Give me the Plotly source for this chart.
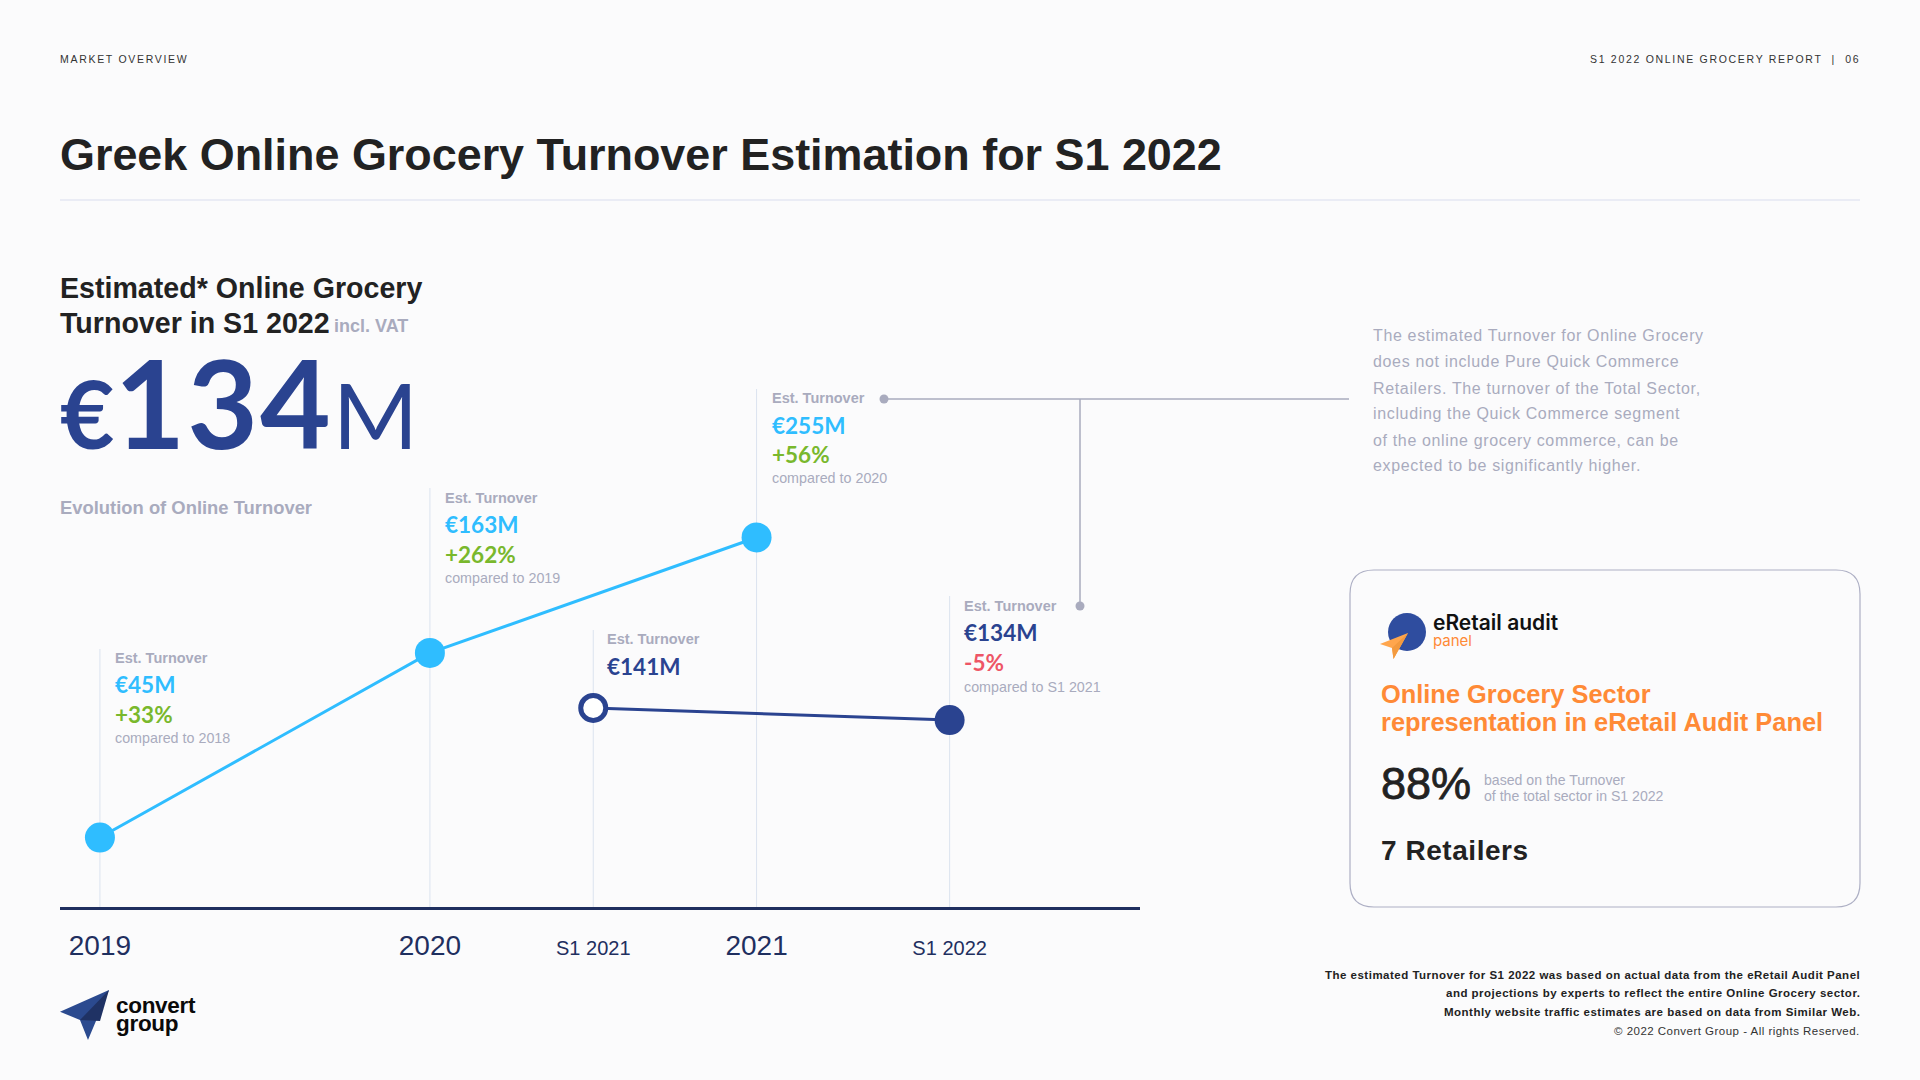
"""Greek online grocery turnover slide, S1 2022"""
import plotly.graph_objects as go

W, H = 1920, 1080

# x positions on a year scale, y = height of the mark as drawn (the slide is not to scale)
YEARS = [2019, 2020, 2020.99]
YEAR_LEVELS = [44.8, 163.9, 238.4]
HALF_YEARS = [2020.495, 2021.575]
HALF_LEVELS = [128.4, 120.6]

TICK_VALS = [2019, 2020, 2020.495, 2020.99, 2021.575]
TICK_TEXT = ["2019", "2020", "S1 2021", "2021", "S1 2022"]
TICK_SIZES = [28, 28, 20, 28, 20]
DROP_TOPS = [649, 488, 630, 389, 596]

NOTE_LINES = [
    "The estimated Turnover for Online Grocery",
    "does not include Pure Quick Commerce",
    "Retailers. The turnover of the Total Sector,",
    "including the Quick Commerce segment",
    "of the online grocery commerce, can be",
    "expected to be significantly higher.",
]
FOOT_LINES = [
    "The estimated Turnover for S1 2022 was based on actual data from the eRetail Audit Panel",
    "and projections by experts to reflect the entire Online Grocery sector.",
    "Monthly website traffic estimates are based on data from Similar Web.",
]

BG = "#fbfbfc"
CYAN = "#2fbdff"
NAVY = "#2a4390"
AXIS = "#1f2f5f"
GREEN = "#79b82c"
RED = "#ee5566"
GRAY = "#a9abbe"
DARK = "#222222"
ORANGE = "#ff8a36"
RULE = "#dadded"
SANS = "Liberation Sans"


def px(x):
    return x / W


def py(y):
    return 1 - y / H


def spaced(text, sp):
    return f'<span style="letter-spacing:{sp}px">{text}</span>'


fig = go.Figure()

# Main lines
fig.add_trace(go.Scatter(x=YEARS, y=YEAR_LEVELS, mode="lines+markers", showlegend=False,
                         line=dict(color=CYAN, width=3),
                         marker=dict(size=30, color=CYAN)))
fig.add_trace(go.Scatter(x=HALF_YEARS, y=HALF_LEVELS, mode="lines+markers", showlegend=False,
                         line=dict(color=NAVY, width=3),
                         marker=dict(size=[25, 30], color=["#ffffff", NAVY], opacity=1,
                                     line=dict(color=NAVY, width=[5, 0]))))

shapes = []


def seg(x0, y0, x1, y1, color=GRAY, width=1.5):
    shapes.append(dict(type="line", xref="paper", yref="paper", x0=px(x0), y0=py(y0),
                       x1=px(x1), y1=py(y1), line=dict(color=color, width=width), layer="below"))


def poly(points, color):
    path = "M " + " L ".join(f"{px(x):.5f},{py(y):.5f}" for x, y in points) + " Z"
    shapes.append(dict(type="path", xref="paper", yref="paper", path=path,
                       fillcolor=color, line=dict(width=0), layer="above"))


def dot(x, y, r, color):
    shapes.append(dict(type="circle", xref="paper", yref="paper", x0=px(x - r), x1=px(x + r),
                       y0=py(y - r), y1=py(y + r), fillcolor=color, line=dict(width=0)))


# Drop lines from the callouts to the axis
for xv, top in zip(TICK_VALS, DROP_TOPS):
    shapes.append(dict(type="line", xref="x", yref="paper", x0=xv, x1=xv, y0=py(907), y1=py(top),
                       line=dict(color="#dbe3ef", width=1), layer="below"))

seg(60, 200, 1860, 200, RULE, 1.2)

# Connector to the note
seg(884, 399, 1349, 399)
seg(1080, 399, 1080, 606)
dot(884, 399, 4.5, GRAY)
dot(1080, 606, 4.5, GRAY)

# Panel box
x0, x1, y0, y1, r = 1350, 1860, 570, 907, 24
shapes.append(dict(
    type="path", xref="paper", yref="paper", layer="below",
    line=dict(color="#adafc4", width=1.2),
    path=(f"M {px(x0 + r)},{py(y0)} L {px(x1 - r)},{py(y0)} "
          f"Q {px(x1)},{py(y0)} {px(x1)},{py(y0 + r)} L {px(x1)},{py(y1 - r)} "
          f"Q {px(x1)},{py(y1)} {px(x1 - r)},{py(y1)} L {px(x0 + r)},{py(y1)} "
          f"Q {px(x0)},{py(y1)} {px(x0)},{py(y1 - r)} L {px(x0)},{py(y0 + r)} "
          f"Q {px(x0)},{py(y0)} {px(x0 + r)},{py(y0)} Z")))

# eRetail logo
dot(1407, 632, 19, "#2f4d9f")
poly([(1380, 644), (1408, 633), (1393.5, 659), (1392, 648)], "#ffa64d")
poly([(1392, 648), (1408, 633), (1393.5, 659)], "#f39a3f")

# Convert logo
poly([(60, 1011.7), (109, 990), (88, 1040), (80, 1020)], "#2b4a8f")
poly([(80, 1020), (109, 990), (100, 1021)], "#1f3264")

fig.update_layout(shapes=shapes)

notes = []


def label(text, x, y, size, color=DARK, bold=False, anchor="left", font=SANS):
    if bold:
        text = f"<b>{text}</b>"
    # annotation boxes carry about 2px of padding
    x = x - 2 if anchor == "left" else x + 2
    notes.append(dict(text=text, x=px(x), y=py(y), xref="paper", yref="paper", showarrow=False,
                      xanchor=anchor, yanchor="middle", align=anchor,
                      font=dict(family=font, size=size, color=color)))


def callout(x, ys, value, value_color, delta=None, delta_color=GREEN, compared=None):
    label("Est. Turnover", x, ys[0], 14.5, GRAY, bold=True)
    label(value, x, ys[1], 22.5, value_color, font="Lato", bold=True)
    if delta:
        label(delta, x, ys[2], 22.5, delta_color, font="Lato", bold=True)
        label(compared, x, ys[3], 14.3, GRAY)


label(spaced("MARKET OVERVIEW", 1.7), 60, 59, 10.5, "#333333")
label(spaced("S1 2022 ONLINE GROCERY REPORT &nbsp;|&nbsp; 06", 1.7), 1860, 59, 10.5, "#333333", anchor="right")
label("Greek Online Grocery Turnover Estimation for S1 2022", 60, 154, 44.9, DARK, bold=True)

label("Estimated* Online Grocery", 60, 288, 28.6, DARK, bold=True)
label("Turnover in S1 2022", 60, 323, 28.6, DARK, bold=True)
label("incl. VAT", 334, 326, 18, GRAY, bold=True)
label('<b><span style="font-size:94px">€</span><span style="letter-spacing:2px">134</span></b>'
      '<span style="font-size:92px;font-weight:400">M</span>', 60, 402, 122, NAVY, font="Lato")
label("Evolution of Online Turnover", 60, 508, 18.4, GRAY, bold=True)

callout(115, [658, 684.5, 714, 738], "€45M", CYAN, "+33%", GREEN, "compared to 2018")
callout(444.5, [498, 524, 554, 578], "€163M", CYAN, "+262%", GREEN, "compared to 2019")
callout(607, [639, 666], "€141M", NAVY)
callout(771.5, [398, 425, 454, 478], "€255M", CYAN, "+56%", GREEN, "compared to 2020")
callout(964, [606, 632, 662, 687], "€134M", NAVY, "-5%", RED, "compared to S1 2021")

for line, y in zip(NOTE_LINES, [335.5, 361.5, 388, 414, 440, 465.5]):
    label(spaced(line, 0.65), 1372.5, y, 16, GRAY)

label('<span style="font-weight:600">eRetail audit</span>', 1433, 622, 21, "#111111", font="Inter")
label("panel", 1433, 640, 15, ORANGE, font="Inter")
label("Online Grocery Sector", 1381, 694, 25.4, ORANGE, bold=True)
label("representation in eRetail Audit Panel", 1381, 722, 25.4, ORANGE, bold=True)
label('<span style="stroke:#222222;stroke-width:0.8px">88%</span>', 1381, 783, 45, DARK)
label("based on the Turnover", 1484, 780, 14.1, GRAY)
label("of the total sector in S1 2022", 1484, 796, 14.1, GRAY)
label(spaced("7 Retailers", 0.55), 1381, 850, 28, DARK, bold=True)

for line, y in zip(FOOT_LINES, [975, 993, 1011.5]):
    label(spaced(line, 0.49), 1860, y, 11.5, DARK, bold=True, anchor="right")
label(spaced("© 2022 Convert Group - All rights Reserved.", 0.48), 1860, 1031, 11.5, "#333333", anchor="right")

label(spaced("convert", -0.3), 116, 1005, 22.5, "#0a0a0a", bold=True)
label(spaced("group", -0.3), 116, 1023, 22.5, "#0a0a0a", bold=True)

fig.update_layout(
    width=W, height=H,
    margin=dict(l=0, r=0, t=0, b=0),
    paper_bgcolor=BG, plot_bgcolor=BG,
    annotations=notes,
    showlegend=False,
    xaxis=dict(domain=[px(60), px(1140)], range=[2018.879, 2022.152], showgrid=False, zeroline=False,
               showline=True, linecolor=AXIS, linewidth=2.5, ticks="", ticklabelstandoff=12,
               tickmode="array", tickvals=TICK_VALS,
               ticktext=[f'<span style="font-size:{s}px">{t}</span>' for t, s in zip(TICK_TEXT, TICK_SIZES)],
               tickfont=dict(family=SANS, size=28, color=AXIS)),
    yaxis=dict(domain=[py(907), py(287)], range=[0, 400], visible=False, showgrid=False, zeroline=False),
)

fig.write_html("out.html", config=dict(displayModeBar=False),
               post_script="document.body.style.margin='0';document.body.style.background='#fbfbfc';")
